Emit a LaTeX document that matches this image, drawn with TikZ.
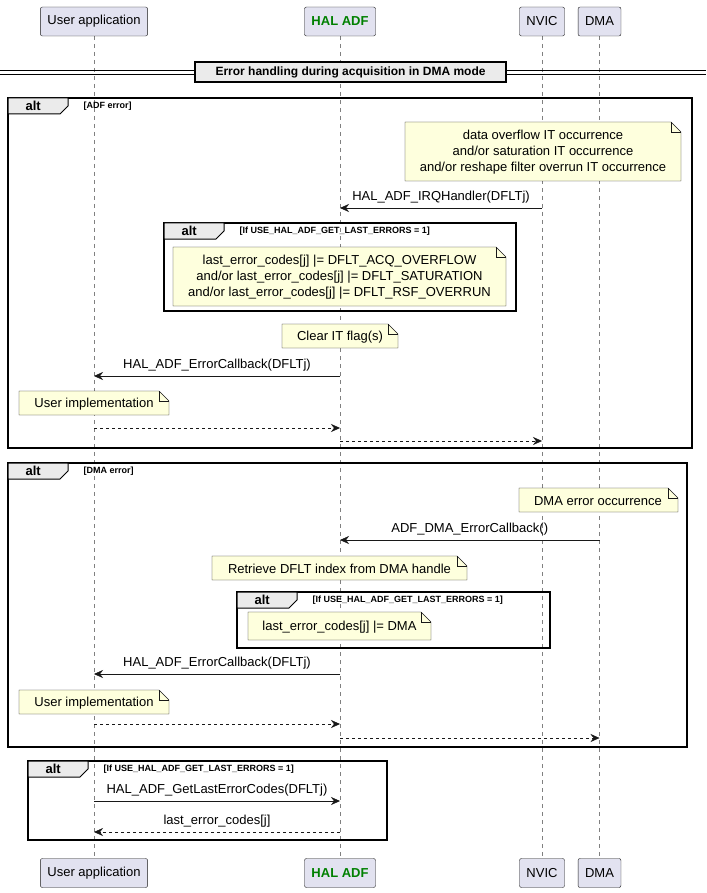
\documentclass[tikz,border=0pt]{standalone}
\usepackage{fontspec}
\setmainfont{Liberation Sans}
\usetikzlibrary{arrows.meta,calc}
\definecolor{partfill}{HTML}{E2E2F0}
\definecolor{notefill}{HTML}{FEFFDD}
\definecolor{edge}{HTML}{181818}
\definecolor{adfgreen}{HTML}{008000}
\tikzset{
  part/.style={draw=edge,fill=partfill,rounded corners=2pt,minimum height=29pt,inner xsep=7pt,font=\fontsize{13}{15}\selectfont},
  life/.style={draw=gray,dashed,dash pattern=on 4pt off 4pt},
  msg/.style={draw=edge,-{Stealth[length=9pt,width=8pt,inset=3pt]}},
  ret/.style={msg,dashed,dash pattern=on 3pt off 3pt},
  lbl/.style={font=\fontsize{13}{15}\selectfont,above=1pt},
  txt/.style={font=\fontsize{13}{16}\selectfont,align=center},
  frame/.style={draw=black,line width=1.5pt},
  cond/.style={font=\bfseries\fontsize{9}{11}\selectfont,anchor=west}
}
% note with a folded corner: x0,y0,x1,y1
\newcommand\umlnote[4]{%
  \draw[draw=edge,fill=notefill,line width=0.4pt] (#1,#2) -- (#3-10,#2) -- (#3,#2+10) -- (#3,#4) -- (#1,#4) -- cycle;
  \draw[draw=edge,line width=0.4pt] (#3-10,#2) -- (#3-10,#2+10) -- (#3,#2+10);}
% alt frame: x0,y0,x1,y1,condition
\newcommand\altframe[5]{%
  \draw[frame] (#1,#2) rectangle (#3,#4);
  \draw[draw=black,line width=1pt,fill=black!8] (#1,#2) -- (#1+60,#2) -- (#1+60,#2+8) -- (#1+52,#2+16) -- (#1,#2+16) -- cycle;
  \node[font=\bfseries\fontsize{13}{15}\selectfont,anchor=west] at (#1+14,#2+8) {alt};
  \node[cond] at (#1+72,#2+8) {#5};}
\begin{document}
\begin{tikzpicture}[x=1pt,y=-1pt]
\useasboundingbox (0,0) rectangle (706,893);

% lifelines
\foreach \x in {94,340,542,599} \draw[life] (\x,36) -- (\x,858);

% participants
\node[part] (ua) at (94,21.5) {User application};
\node[part,font=\bfseries\fontsize{13}{15}\selectfont,text=adfgreen] (adf) at (340,21.5) {HAL ADF};
\node[part] (nvic) at (542,21.5) {NVIC};
\node[part] (dma) at (599.5,21.5) {DMA};
\node[part] (ua2) at (94,873) {User application};
\node[part,font=\bfseries\fontsize{13}{15}\selectfont,text=adfgreen] (adf2) at (340,873) {HAL ADF};
\node[part] (nvic2) at (542,873) {NVIC};
\node[part] (dma2) at (599.5,873) {DMA};

% separator
\draw (0,70) -- (706,70);
\draw (0,74) -- (706,74);
\node[draw=black,line width=1.2pt,fill=black!8,font=\bfseries\fontsize{12}{14}\selectfont,minimum width=311pt,minimum height=20pt] (sep) at (350.5,72) {Error handling during acquisition in DMA mode};

% ADF error
\altframe{8}{98}{692}{448}{[ADF error]}
\umlnote{405}{122}{681}{181}
\node[txt] (n1) at (543,152) {data overflow IT occurrence\\and/or saturation IT occurrence\\and/or reshape filter overrun IT occurrence};
\coordinate (r1) at (0,208);
\draw[msg] (nvic |- r1) -- node[lbl] {HAL\_ADF\_IRQHandler(DFLTj)} (adf |- r1);
\altframe{164}{223}{516}{311}{[If USE\_HAL\_ADF\_GET\_LAST\_ERRORS = 1]}
\umlnote{173}{247}{506}{306}
\node[txt] (n2) at (339.5,277) {last\_error\_codes[j] |= DFLT\_ACQ\_OVERFLOW\\and/or last\_error\_codes[j] |= DFLT\_SATURATION\\and/or last\_error\_codes[j] |= DFLT\_RSF\_OVERRUN};
\umlnote{282}{324}{398}{348}
\node[txt] (n3) at (340,337) {Clear IT flag(s)};
\coordinate (r2) at (0,376);
\draw[msg] (adf |- r2) -- node[lbl] {HAL\_ADF\_ErrorCallback(DFLTj)} (ua |- r2);
\umlnote{19}{391}{169}{415}
\node[txt] (n4) at (94,404) {User implementation};
\coordinate (r3) at (0,428);
\draw[ret] (ua |- r3) -- (adf |- r3);
\coordinate (r4) at (0,441);
\draw[ret] (adf |- r4) -- (nvic |- r4);

% DMA error
\altframe{8}{463}{687}{747}{[DMA error]}
\umlnote{519}{488}{678}{512}
\node[txt] (n5) at (598,501) {DMA error occurrence};
\coordinate (r5) at (0,540);
\draw[msg] (dma |- r5) -- node[lbl] {ADF\_DMA\_ErrorCallback()} (adf |- r5);
\umlnote{212}{556}{467}{580}
\node[txt] (n6) at (339.5,569) {Retrieve DFLT index from DMA handle};
\altframe{237}{592}{550}{648}{[If USE\_HAL\_ADF\_GET\_LAST\_ERRORS = 1]}
\umlnote{248}{612}{431}{640}
\node[txt] (n7) at (339.5,627) {last\_error\_codes[j] |= DMA};
\coordinate (r6) at (0,674);
\draw[msg] (adf |- r6) -- node[lbl] {HAL\_ADF\_ErrorCallback(DFLTj)} (ua |- r6);
\umlnote{19}{690}{169}{714}
\node[txt] (n8) at (94,703) {User implementation};
\coordinate (r7) at (0,724);
\draw[ret] (ua |- r7) -- (adf |- r7);
\coordinate (r8) at (0,738);
\draw[ret] (adf |- r8) -- (dma |- r8);

% last errors
\altframe{28}{761}{387}{840}{[If USE\_HAL\_ADF\_GET\_LAST\_ERRORS = 1]}
\coordinate (r9) at (0,801);
\draw[msg] (ua |- r9) -- node[lbl] {HAL\_ADF\_GetLastErrorCodes(DFLTj)} (adf |- r9);
\coordinate (r10) at (0,832);
\draw[ret] (adf |- r10) -- node[lbl] {last\_error\_codes[j]} (ua |- r10);
\end{tikzpicture}
\end{document}
